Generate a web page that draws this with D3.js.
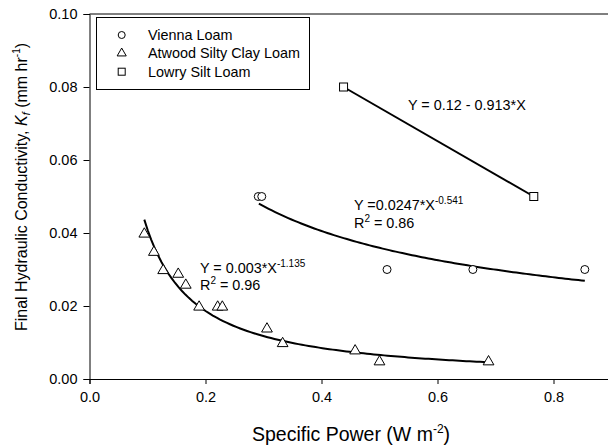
<!DOCTYPE html>
<html><head><meta charset="utf-8">
<script src="https://cdn.jsdelivr.net/npm/d3@7"></script>
<style>
html,body{margin:0;padding:0;background:#fff;}
svg{display:block;font-family:"Liberation Sans",Arial,sans-serif;}
</style></head>
<body><svg id="c" width="608" height="447"></svg>
<script>
// ---- data ----
const viennaX = [0.291, 0.297, 0.513, 0.661, 0.854];
const viennaY = [0.050, 0.050, 0.030, 0.030, 0.030];
const atwoodX = [0.0945, 0.111, 0.127, 0.153, 0.166, 0.189, 0.221, 0.229, 0.306, 0.333, 0.458, 0.500, 0.688];
const atwoodY = [0.040, 0.035, 0.030, 0.029, 0.026, 0.020, 0.020, 0.020, 0.014, 0.010, 0.008, 0.005, 0.005];
const lowryX = [0.438, 0.766];
const lowryY = [0.080, 0.050];
const xTicks = [0.0, 0.2, 0.4, 0.6, 0.8];
const yTicks = [0.00, 0.02, 0.04, 0.06, 0.08, 0.10];
const legendNames = ["Vienna Loam", "Atwood Silty Clay Loam", "Lowry Silt Loam"];
// fitted equations (from the figure)
const viennaFit = {a: 0.0247, b: -0.541, x0: 0.292, x1: 0.854};
const atwoodFit = {a: 0.003, b: -1.135, x0: 0.0945, x1: 0.685};

const svg = d3.select("#c");
const x = d3.scaleLinear().domain([0, 0.9]).range([89.5, 611.5]);
const y = d3.scaleLinear().domain([0, 0.10]).range([379, 14]);

// axes
const xAxis = svg.append("g").attr("transform", `translate(0,${y(0)})`)
  .call(d3.axisBottom(x).tickValues(xTicks).tickFormat(d3.format(".1f")).tickSizeOuter(0).tickSize(5).tickPadding(8));
const yAxis = svg.append("g").attr("transform", `translate(${x(0)},0)`)
  .call(d3.axisLeft(y).tickValues(yTicks).tickFormat(d3.format(".2f")).tickSizeOuter(0).tickSize(6).tickPadding(6));
[xAxis, yAxis].forEach(g => {
  g.selectAll("text").attr("font-size", 14.5).attr("fill", "#000").attr("font-family", "Liberation Sans, Arial, sans-serif");
  g.selectAll("line,path").attr("stroke", "#000").attr("stroke-width", 1);
});
// top frame line
svg.append("line").attr("x1", x(0)).attr("x2", 608).attr("y1", y(0.10)).attr("y2", y(0.10))
  .attr("stroke", "#000").attr("stroke-width", 1);

// axis titles
const xl = svg.append("text").attr("x", 351).attr("y", 441).attr("text-anchor", "middle")
  .attr("font-size", 19.5).attr("fill", "#000");
xl.append("tspan").text("Specific Power (W m");
xl.append("tspan").attr("font-size", 12).attr("dy", -8).text("-2");
xl.append("tspan").attr("dy", 8).text(")");

const yl = svg.append("text").attr("transform", "translate(27,187) rotate(-90)").attr("text-anchor", "middle")
  .attr("font-size", 16).attr("fill", "#000");
yl.append("tspan").text("Final Hydraulic Conductivity, ");
yl.append("tspan").attr("font-style", "italic").text("K");
yl.append("tspan").attr("font-style", "italic").attr("font-size", 11).attr("dy", 3).text("f");
yl.append("tspan").attr("dy", -3).text(" (mm hr");
yl.append("tspan").attr("font-size", 10).attr("dy", -7).text("-1");
yl.append("tspan").attr("dy", 7).text(")");

// fitted lines
const line = d3.line().x(d => x(d[0])).y(d => y(d[1]));
function powerPts(f) {
  const pts = [];
  for (let i = 0; i <= 100; i++) {
    const xv = f.x0 + (f.x1 - f.x0) * i / 100;
    pts.push([xv, f.a * Math.pow(xv, f.b)]);
  }
  return pts;
}
svg.append("path").attr("d", line(powerPts(viennaFit))).attr("fill", "none").attr("stroke", "#000").attr("stroke-width", 2);
svg.append("path").attr("d", line(powerPts(atwoodFit))).attr("fill", "none").attr("stroke", "#000").attr("stroke-width", 2);
svg.append("path").attr("d", line(lowryX.map((v, i) => [v, lowryY[i]]))).attr("fill", "none").attr("stroke", "#000").attr("stroke-width", 2);

// markers
function drawCircle(g, cx, cy, r) {
  g.append("circle").attr("cx", cx).attr("cy", cy).attr("r", r).attr("fill", "#fff").attr("stroke", "#000").attr("stroke-width", 1);
}
function drawSquare(g, cx, cy, s) {
  g.append("rect").attr("x", cx - s / 2).attr("y", cy - s / 2).attr("width", s).attr("height", s)
    .attr("fill", "#fff").attr("stroke", "#000").attr("stroke-width", 1);
}
function drawTri(g, cx, cy, sz) {
  g.append("path").attr("d", d3.symbol().type(d3.symbolTriangle).size(sz)()).attr("transform", `translate(${cx},${cy + 1})`)
    .attr("fill", "#fff").attr("stroke", "#000").attr("stroke-width", 1);
}
const mk = svg.append("g");
viennaX.forEach((v, i) => drawCircle(mk, x(v), y(viennaY[i]), 4));
atwoodX.forEach((v, i) => drawTri(mk, x(v), y(atwoodY[i]), 50));
lowryX.forEach((v, i) => drawSquare(mk, x(v), y(lowryY[i]), 8));

// annotations
function eqText(px, py, parts) {
  const t = svg.append("text").attr("x", px).attr("y", py).attr("font-size", 14.4).attr("fill", "#000");
  parts.forEach(p => {
    const s = t.append("tspan").text(p.t);
    if (p.sup) s.attr("font-size", 10).attr("dy", -6);
    if (p.down) s.attr("dy", 6);
  });
}
eqText(408, 110, [{t: "Y  = 0.12 - 0.913*X"}]);
eqText(354, 210, [{t: "Y =0.0247*X"}, {t: "-0.541", sup: true}]);
eqText(354, 228, [{t: "R"}, {t: "2", sup: true}, {t: " = 0.86", down: true}]);
eqText(200, 273, [{t: "Y = 0.003*X"}, {t: "-1.135", sup: true}]);
eqText(200, 290, [{t: "R"}, {t: "2", sup: true}, {t: " = 0.96", down: true}]);

// legend
svg.append("rect").attr("x", 96.5).attr("y", 17.5).attr("width", 213).attr("height", 72)
  .attr("fill", "#fff").attr("stroke", "#000").attr("stroke-width", 1);
const lg = svg.append("g");
const rowsY = [35, 53.3, 71.7];
drawCircle(lg, 121.7, rowsY[0], 3.5);
drawTri(lg, 121.7, rowsY[1] - 1, 36);
drawSquare(lg, 121.7, rowsY[2], 7);
legendNames.forEach((n, i) => {
  lg.append("text").attr("x", 148).attr("y", rowsY[i] + 5).attr("font-size", 14.4).attr("fill", "#000").text(n);
});
</script></body></html>
